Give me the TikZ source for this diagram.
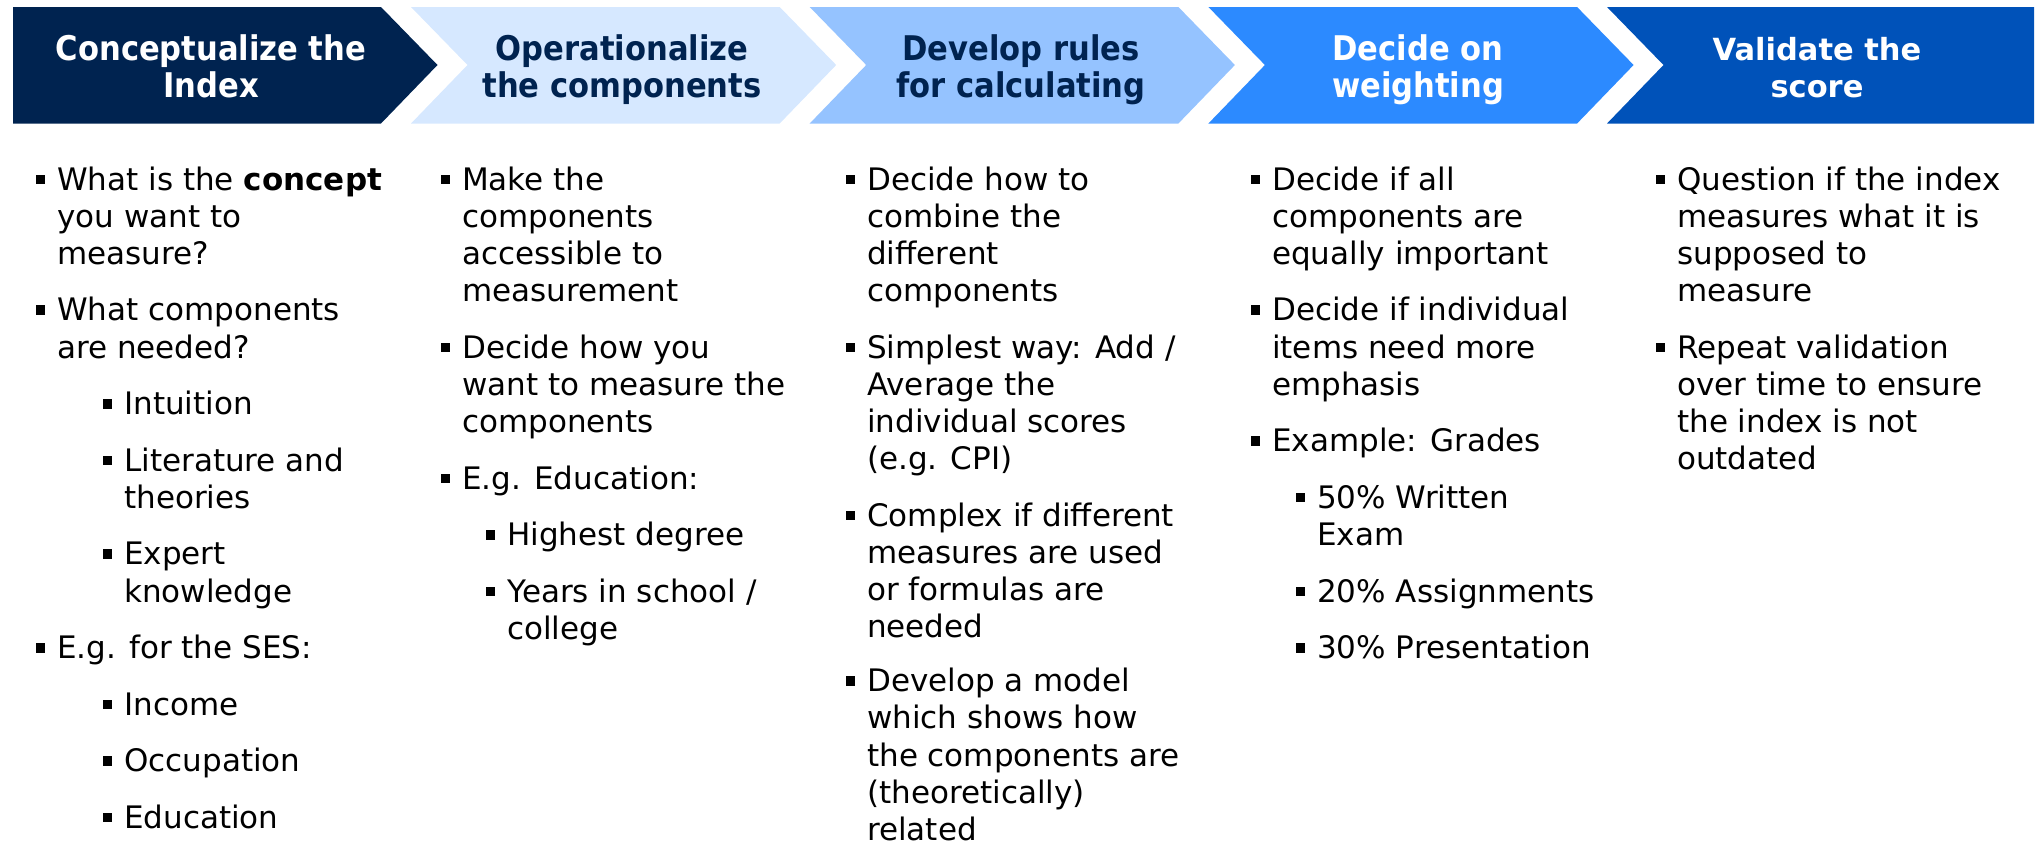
\documentclass[tikz,border=0pt]{standalone}
\usepackage{fontspec}
\setmainfont{DejaVu Sans}
\newfontfamily\hdrfont{DejaVu Sans Condensed Bold}
\newfontfamily\hdrwide{DejaVu Sans Bold}

\definecolor{navy}{RGB}{0,35,80}
\definecolor{paleblue}{RGB}{214,232,255}
\definecolor{skyblue}{RGB}{149,195,255}
\definecolor{brightblue}{RGB}{44,138,255}
\definecolor{royalblue}{RGB}{0,82,185}

\newcommand\bul{\llap{\raisebox{6pt}{\rule{9.5pt}{9.5pt}}\hspace{12pt}}}

\tikzset{
  hdrtxt/.style={align=center, inner sep=0pt, anchor=base,
    font=\hdrfont\fontsize{34}{37}\selectfont},
  itm/.style={align=left, inner sep=0pt, anchor=base west,
    font=\fontsize{31}{37.2}\selectfont}
}

\begin{document}
\begin{tikzpicture}[x=1pt,y=-1pt]
  \useasboundingbox (0,0) rectangle (2038,846);
  % header chevrons
  \fill[navy] (13,7) -- (381,7) -- (437.5,65) -- (381,123.5) -- (13,123.5) -- cycle;
  \foreach \k/\col in {0/paleblue,1/skyblue,2/brightblue}{
    \pgfmathsetmacro{\l}{411+398.7*\k}
    \fill[\col] (\l,7) -- (\l+368.7,7) -- (\l+425.2,65) -- (\l+368.7,123.5)
      -- (\l,123.5) -- (\l+56.5,65) -- cycle;
  }
  \fill[royalblue] (1607,7) -- (2034,7) -- (2034,123.5) -- (1607,123.5) -- (1663.5,65) -- cycle;
  % header labels (base = second line)
  \node[hdrtxt, text=white] (h1) at (211,97) {Conceptualize the\\Index};
  \node[hdrtxt, text=navy] (h2) at (622,97) {Operationalize\\the components};
  \node[hdrtxt, text=navy] (h3) at (1021,97) {Develop rules\\for calculating};
  \node[hdrtxt, text=white] (h4) at (1418,97) {Decide on\\weighting};
  \node[hdrtxt, text=white, font=\hdrwide\fontsize{30.5}{37}\selectfont] (h5) at (1817,97) {Validate the\\score};

  % column 1 (y = baseline of last line)
  \node[itm] (a1) at (57,264.4) {\bul What is the \textbf{concept}\\you want to\\measure?};
  \node[itm] (a2) at (57,358.1) {\bul What components\\are needed?};
  \node[itm] (a3) at (124,414.6) {\bul Intuition};
  \node[itm] (a4) at (124,508.3) {\bul Literature and\\theories};
  \node[itm] (a5) at (124,602) {\bul Expert\\knowledge};
  \node[itm] (a6) at (57,658.5) {\bul E.g. for the SES:};
  \node[itm] (a7) at (124,715) {\bul Income};
  \node[itm] (a8) at (124,771.5) {\bul Occupation};
  \node[itm] (a9) at (124,828) {\bul Education};

  % column 2
  \node[itm] (b1) at (462,301.6) {\bul Make the\\components\\accessible to\\measurement};
  \node[itm] (b2) at (462,432.5) {\bul Decide how you\\want to measure the\\components};
  \node[itm] (b3) at (462,489) {\bul E.g. Education:};
  \node[itm] (b4) at (507,545.5) {\bul Highest degree};
  \node[itm] (b5) at (507,639.2) {\bul Years in school /\\college};

  % column 3
  \node[itm] (c1) at (867,301.6) {\bul Decide how to\\combine the\\different\\components};
  \node[itm] (c2) at (867,469.7) {\bul Simplest way: Add /\\Average the\\individual scores\\(e.g. CPI)};
  \node[itm] (c3) at (867,637.8) {\bul Complex if different\\measures are used\\or formulas are\\needed};
  \node[itm] (c4) at (867,840.5) {\bul Develop a model\\which shows how\\the components are\\(theoretically)\\related};

  % column 4
  \node[itm] (d1) at (1272,264.4) {\bul Decide if all\\components are\\equally important};
  \node[itm] (d2) at (1272,395.3) {\bul Decide if individual\\items need more\\emphasis};
  \node[itm] (d3) at (1272,451.8) {\bul Example: Grades};
  \node[itm] (d4) at (1317,545.5) {\bul 50\% Written\\Exam};
  \node[itm] (d5) at (1317,602) {\bul 20\% Assignments};
  \node[itm] (d6) at (1317,658.5) {\bul 30\% Presentation};

  % column 5
  \node[itm] (e1) at (1677,301.6) {\bul Question if the index\\measures what it is\\supposed to\\measure};
  \node[itm] (e2) at (1677,469.7) {\bul Repeat validation\\over time to ensure\\the index is not\\outdated};
\end{tikzpicture}
\end{document}
